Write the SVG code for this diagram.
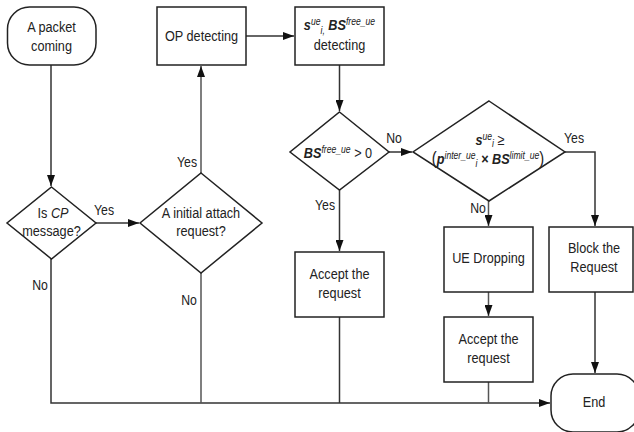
<svg xmlns="http://www.w3.org/2000/svg" width="634" height="432" viewBox="0 0 634 432">
  <style>
    .shape { fill: #fff; stroke: #222; stroke-width: 1.5; }
    .line { fill: none; stroke: #333; stroke-width: 1.5; }
    .grey { stroke: #555; }
    text { font-family: "Liberation Sans", Arial, sans-serif; font-size: 15.5px; fill: #222; text-anchor: middle; }
    .bi { font-weight: bold; font-style: italic; }
    .it { font-style: italic; }
    .sup { font-size: 10.5px; font-style: italic; }
    .lbl { font-size: 15px; }
  </style>
  <defs>
    <marker id="arrowL" viewBox="0 0 10 10" refX="10" refY="5" markerWidth="11" markerHeight="8" markerUnits="userSpaceOnUse" orient="auto" preserveAspectRatio="none">
      <path d="M0,0 L10,5 L0,10 z" fill="#111"/>
    </marker>
  </defs>

  <!-- connectors; texts are drawn condensed with a horizontal scale -->
  <g id="connectors">
    <path class="line" d="M51,65 V186" marker-end="url(#arrowL)"/>
    <path class="line" d="M96,223 H139" marker-end="url(#arrowL)"/>
    <path class="line grey" d="M201,173 V66" marker-end="url(#arrowL)"/>
    <path class="line" d="M246,36 H294" marker-end="url(#arrowL)"/>
    <path class="line" d="M339.5,65 V111" marker-end="url(#arrowL)"/>
    <path class="line" d="M389,152 H412" marker-end="url(#arrowL)"/>
    <path class="line" d="M339.5,190 V251" marker-end="url(#arrowL)"/>
    <path class="line" d="M565,152 H595 V226" marker-end="url(#arrowL)"/>
    <path class="line grey" d="M488.5,201 V226" marker-end="url(#arrowL)"/>
    <path class="line grey" d="M488.5,292 V316" marker-end="url(#arrowL)"/>
    <path class="line" d="M595,292 V373" marker-end="url(#arrowL)"/>
    <path class="line" d="M51,259 V403 H550" marker-end="url(#arrowL)"/>
    <path class="line grey" d="M201,273 V403"/>
    <path class="line" d="M339.5,317 V403"/>
    <path class="line grey" d="M488.5,382 V403"/>
    <text class="lbl" transform="translate(104,215) scale(0.82,1)">Yes</text>
    <text class="lbl" transform="translate(187,167) scale(0.82,1)">Yes</text>
    <text class="lbl" transform="translate(40,290) scale(0.82,1)">No</text>
    <text class="lbl" transform="translate(189,305) scale(0.82,1)">No</text>
    <text class="lbl" transform="translate(394,143) scale(0.82,1)">No</text>
    <text class="lbl" transform="translate(325,210) scale(0.82,1)">Yes</text>
    <text class="lbl" transform="translate(574,143) scale(0.82,1)">Yes</text>
    <text class="lbl" transform="translate(478,213) scale(0.82,1)">No</text>
  </g>

  <g id="start">
    <rect class="shape" x="7.5" y="7" width="88.5" height="58" rx="22" ry="22"/>
    <text transform="translate(51.5,32) scale(0.82,1)">A packet</text>
    <text transform="translate(51.5,51) scale(0.82,1)">coming</text>
  </g>

  <g id="is-cp">
    <polygon class="shape" points="51.5,187 96,223 51.5,259 7,223"/>
    <text transform="translate(53,218) scale(0.82,1)">Is <tspan class="it">CP</tspan></text>
    <text transform="translate(51.5,236) scale(0.82,1)">message?</text>
  </g>

  <g id="attach">
    <polygon class="shape" points="201,173 262,223 201,273 140,223"/>
    <text transform="translate(201,218) scale(0.82,1)">A initial attach</text>
    <text transform="translate(201,236) scale(0.82,1)">request?</text>
  </g>

  <g id="op-detecting">
    <rect class="shape" x="157" y="7" width="89" height="58"/>
    <text transform="translate(201.5,41) scale(0.82,1)">OP detecting</text>
  </g>

  <g id="ue-bs-detecting">
    <rect class="shape" x="295" y="7" width="89" height="58"/>
    <text transform="translate(339.5,30) scale(0.82,1)"><tspan class="bi">s</tspan><tspan class="sup" dy="-5">ue</tspan><tspan class="sup" dy="9">i,</tspan><tspan class="bi" dy="-4"> BS</tspan><tspan class="sup" dy="-5">free_ue</tspan></text>
    <text transform="translate(339.5,50) scale(0.82,1)">detecting</text>
  </g>

  <g id="bs-free">
    <polygon class="shape" points="339.5,112 389,152 339.5,190 290,152"/>
    <text transform="translate(338,158) scale(0.82,1)"><tspan class="bi">BS</tspan><tspan class="sup" dy="-5">free_ue</tspan><tspan dy="5"> &gt; 0</tspan></text>
  </g>

  <g id="ue-limit">
    <polygon class="shape" points="489,101 565,152 489,201 413,152"/>
    <text transform="translate(490,145) scale(0.82,1)"><tspan class="bi">s</tspan><tspan class="sup" dy="-5">ue</tspan><tspan class="sup" dy="7">i</tspan><tspan dy="-2"> ≥</tspan></text>
    <text transform="translate(488,164) scale(0.82,1)"><tspan font-size="18">(</tspan><tspan class="bi">p</tspan><tspan class="sup" dy="-5">inter_ue</tspan><tspan class="sup" dy="8">i</tspan><tspan class="bi" dy="-3"> × BS</tspan><tspan class="sup" dy="-5">limit_ue</tspan><tspan font-size="18" dy="5">)</tspan></text>
  </g>

  <g id="accept-1">
    <rect class="shape" x="295" y="252" width="89" height="65"/>
    <text transform="translate(339.5,279) scale(0.82,1)">Accept the</text>
    <text transform="translate(339.5,298) scale(0.82,1)">request</text>
  </g>

  <g id="ue-dropping">
    <rect class="shape" x="444" y="227" width="89" height="65"/>
    <text transform="translate(488.5,263) scale(0.82,1)">UE Dropping</text>
  </g>

  <g id="accept-2">
    <rect class="shape" x="444" y="317" width="89" height="65"/>
    <text transform="translate(488.5,344) scale(0.82,1)">Accept the</text>
    <text transform="translate(488.5,363) scale(0.82,1)">request</text>
  </g>

  <g id="block">
    <rect class="shape" x="549" y="227" width="84" height="65"/>
    <text transform="translate(594,253) scale(0.82,1)">Block the</text>
    <text transform="translate(594,272) scale(0.82,1)">Request</text>
  </g>

  <g id="end">
    <rect class="shape" x="551" y="374" width="88" height="58" rx="22" ry="22"/>
    <text transform="translate(594,407) scale(0.82,1)">End</text>
  </g>
</svg>
